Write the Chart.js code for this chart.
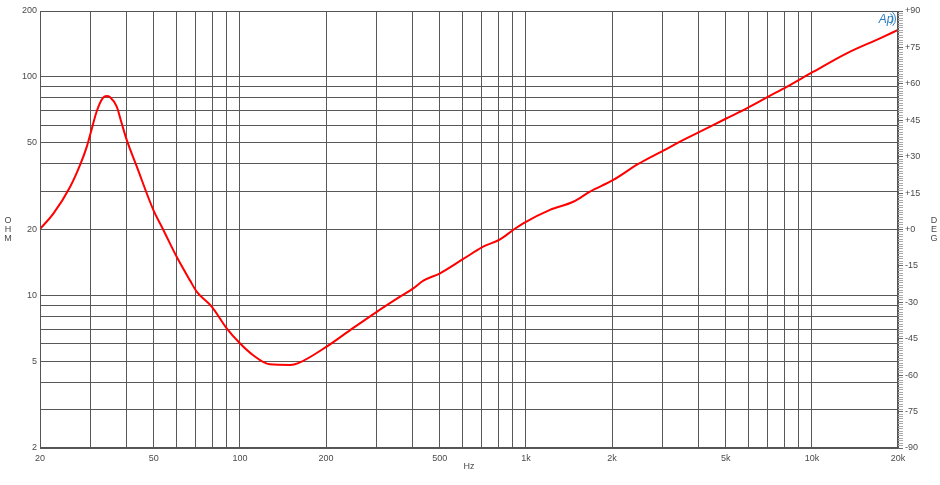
<!DOCTYPE html>
<html>
<head>
<meta charset="utf-8">
<script src="https://cdn.jsdelivr.net/npm/chart.js@4.4.1/dist/chart.umd.min.js"></script>
<style>
  html, body { margin:0; padding:0; background:#fff; }
  #wrap { width:940px; height:485px; }
</style>
</head>
<body>
<div id="wrap"><canvas id="impChart" width="940" height="485"></canvas></div>
<script>
// Impedance sweep
const freqHz = [20, 22.3, 25.5, 27.6, 29.1, 30.4, 31.6, 33.2, 34.2, 35.1, 37.1, 38.4, 40.2, 43.6, 49.8, 54, 60.1, 66.9, 70.6, 79.7, 89.9, 100, 111, 127, 150, 160, 201, 243, 301, 363, 404, 438, 501, 604, 709, 812, 903, 979, 1214, 1464, 1675, 2021, 2472, 3023, 3458, 4062, 5036, 5917, 7040, 8163, 10120, 13235, 17300, 20000];
const ohms = [20.1, 23.7, 31.4, 39.4, 47.5, 58.3, 69.7, 80.0, 81.7, 80.8, 73.0, 62.7, 51.4, 38.8, 24.6, 19.9, 15.0, 11.7, 10.4, 8.87, 7.06, 6.03, 5.33, 4.83, 4.80, 4.89, 5.82, 6.93, 8.4, 9.85, 10.76, 11.66, 12.61, 14.66, 16.68, 18.03, 19.9, 21.35, 24.6, 26.8, 29.8, 33.7, 39.9, 45.9, 50.5, 56.1, 64.6, 71.7, 81.1, 90.0, 105.5, 128.1, 150, 163.7];

// axis ticks
const xGrid = [20,30,40,50,60,70,80,90,100,200,300,400,500,600,700,800,900,1000,2000,3000,4000,5000,6000,7000,8000,9000,10000,20000];
const xLabels = {20:'20',50:'50',100:'100',200:'200',500:'500',1000:'1k',2000:'2k',5000:'5k',10000:'10k',20000:'20k'};
const yGrid = [2,3,4,5,6,7,8,9,10,20,30,40,50,60,70,80,90,100,200];
const yLabels = [2,5,10,20,50,100,200];
const degMajor = [-90,-75,-60,-45,-30,-15,0,15,30,45,60,75,90];

const gridCol = '#585858';
const txtCol = '#4a4a4a';
const tickFont = { family: 'Liberation Sans, Arial, sans-serif', size: 9 };

const points = freqHz.map((f, i) => ({ x: f, y: ohms[i] }));

// titles, frame and logo
const decor = {
  id: 'decor',
  afterDraw(chart) {
    const c = chart.ctx, a = chart.chartArea;
    c.save();
    c.strokeStyle = '#555';
    c.lineWidth = 1;
    c.strokeRect(a.left + 0.5, a.top + 0.5, a.right - a.left - 1, a.bottom - a.top - 1);
    c.fillStyle = txtCol;
    c.font = '9px Liberation Sans, Arial, sans-serif';
    c.textAlign = 'center';
    c.textBaseline = 'middle';
    ['O','H','M'].forEach((ch, i) => c.fillText(ch, 8, 221 + i * 9));
    ['D','E','G'].forEach((ch, i) => c.fillText(ch, 934, 221 + i * 9));
    c.fillText('Hz', 469, 467);
    // AP logo
    c.strokeStyle = '#2a7fc0';
    c.fillStyle = '#2a7fc0';
    c.font = 'italic 12px Liberation Sans, Arial, sans-serif';
    c.fillText('Ap', 886, 20);
    c.lineWidth = 1;
    c.beginPath(); c.arc(886, 19, 7, -0.9, 0.9); c.stroke();
    c.beginPath(); c.arc(886, 19, 9.5, -0.8, 0.8); c.stroke();
    c.restore();
  }
};

new Chart(document.getElementById('impChart'), {
  type: 'line',
  data: {
    datasets: [{
      data: points,
      borderColor: '#ff0000',
      borderWidth: 2,
      pointRadius: 0,
      fill: false,
      cubicInterpolationMode: 'monotone',
      yAxisID: 'y'
    }]
  },
  options: {
    responsive: false,
    animation: false,
    layout: { padding: { top: 11, left: 0, right: 0, bottom: 0 } },
    plugins: { legend: { display: false }, tooltip: { enabled: false } },
    scales: {
      x: {
        type: 'logarithmic', min: 20, max: 20000,
        afterBuildTicks: s => { s.ticks = xGrid.map(v => ({ value: v })); },
        afterFit: s => { s.height = 37; },
        grid: { color: gridCol, lineWidth: 1, drawTicks: false },
        border: { display: false },
        ticks: {
          autoSkip: false, maxRotation: 0, padding: 5, color: txtCol, font: tickFont,
          callback: v => xLabels[v] || ''
        }
      },
      y: {
        type: 'logarithmic', position: 'left', min: 2, max: 200,
        afterBuildTicks: s => { s.ticks = yGrid.map(v => ({ value: v })); },
        afterFit: s => { s.width = 40; },
        grid: { color: gridCol, lineWidth: 1, drawTicks: false },
        border: { display: false },
        ticks: {
          autoSkip: false, padding: 3, color: txtCol, font: tickFont,
          callback: v => yLabels.includes(v) ? String(v) : ''
        }
      },
      deg: {
        type: 'linear', position: 'right', min: -90, max: 90,
        afterBuildTicks: s => {
          const t = [];
          for (let d = -90; d <= 90; d++) t.push({ value: d });
          s.ticks = t;
        },
        afterFit: s => { s.width = 42; },
        grid: {
          drawOnChartArea: false, tickLength: 5,
          tickColor: ctx => degMajor.includes(ctx.tick.value) ? '#666' : '#aaa'
        },
        border: { display: false },
        ticks: {
          autoSkip: false, padding: 2, color: txtCol, font: tickFont,
          callback: v => degMajor.includes(v) ? (v >= 0 ? '+' + v : String(v)) : ''
        }
      }
    }
  },
  plugins: [decor]
});
</script>
</body>
</html>
